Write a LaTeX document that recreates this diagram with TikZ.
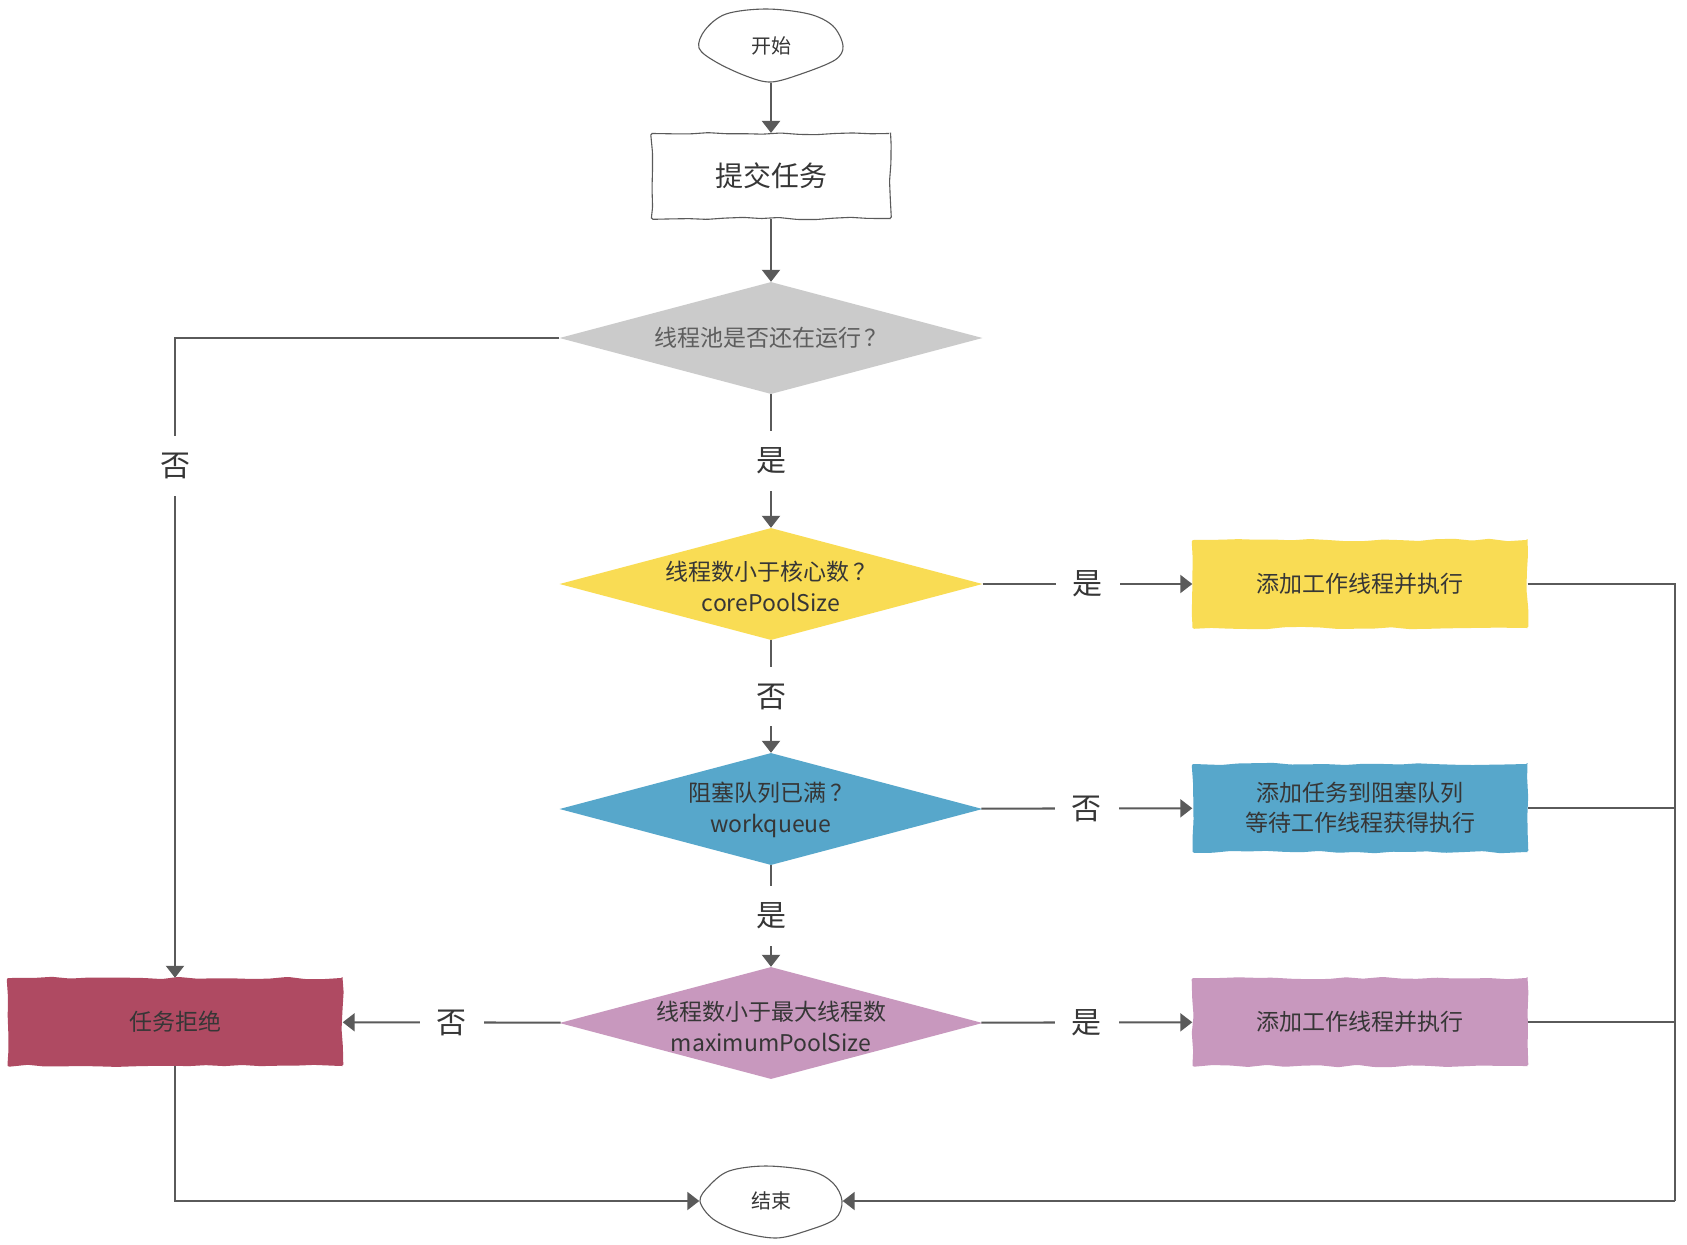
\documentclass[tikz,border=0pt]{standalone}
\usepackage{fontspec}
\setmainfont{Noto Sans CJK SC}
\usetikzlibrary{shapes.geometric,arrows.meta,decorations.pathmorphing}
\definecolor{lc}{HTML}{5A5A5A}
\definecolor{txt}{HTML}{363636}
\definecolor{grayd}{HTML}{CBCBCB}
\definecolor{yel}{HTML}{F9DC54}
\definecolor{blu}{HTML}{57A7CB}
\definecolor{pnk}{HTML}{C898BE}
\definecolor{redd}{HTML}{AF4A62}
\tikzset{
  sketch/.style={decorate, decoration={random steps, segment length=18pt, amplitude=1.2pt}, rounded corners=1.5pt},
  cloudy/.style={ellipse, minimum width=#1, minimum height=73pt, inner sep=0pt,
     font=\fontsize{20}{24}\selectfont, text=txt},
  cloudline/.style={draw=lc, line width=1.1pt},
  plainbox/.style={rectangle, draw=lc, line width=1.1pt, fill=white, minimum width=239pt, minimum height=85pt, inner sep=0pt,
     font=\fontsize{28}{32}\selectfont, text=txt, sketch},
  dia/.style={diamond, minimum width=423pt, minimum height=112pt, inner sep=0pt},
  dtext/.style={align=center, font=\fontsize{23}{31}\selectfont, text=txt, inner sep=0pt},
  cbox/.style={rectangle, fill=#1, minimum width=335pt, minimum height=88pt, inner sep=0pt, align=center,
     font=\fontsize{23}{30}\selectfont, text=txt, sketch},
  line/.style={draw=lc, line width=2.1pt},
  conn/.style={line, -{Triangle[length=12pt,width=18pt]}},
  lbl/.style={fill=white, inner sep=17pt, font=\fontsize{30}{32}\selectfont, text=txt}
}
\pgfmathsetseed{7}
\begin{document}
\begin{tikzpicture}[x=1pt,y=-1pt]
\useasboundingbox[fill=white] (0,0) rectangle (1687,1245);
% nodes
\node[cloudy=144pt] (start) at (771,46) {开始};
\draw[cloudline, shift={(start.center)}] plot[smooth cycle, tension=0.55] coordinates
  {(-45,-32) (-5,-37) (38,-32) (62,-20) (72,0) (64,14) (30,28) (0,36) (-25,30) (-55,16) (-72,2) (-66,-16)};
\node[plainbox] (submit) at (771,176) {提交任务};
\node[dia, fill=grayd] (d1) at (771,338) {};
\node[dtext, text=txt!80] (d1t) at (771,338) {线程池是否还在运行\,？};
\node[dia, fill=yel] (d2) at (771,584) {};
\node[dtext] (d2t) at (771,586) {线程数小于核心数\,？\\corePoolSize};
\node[dia, fill=blu] (d3) at (771,809) {};
\node[dtext] (d3t) at (771,810) {阻塞队列已满\,？\\workqueue};
\node[dia, fill=pnk] (d4) at (771,1023) {};
\node[dtext] (d4t) at (771,1026) {线程数小于最大线程数\\maximumPoolSize};
\node[cbox=yel] (yb) at (1360,584) {添加工作线程并执行};
\node[cbox=blu] (bb) at (1360,808) {添加任务到阻塞队列\\等待工作线程获得执行};
\node[cbox=pnk] (pb) at (1360,1022) {添加工作线程并执行};
\node[cbox=redd] (rb) at (175,1022) {任务拒绝};
\node[cloudy=143pt] (endc) at (771,1201) {结束};
\draw[cloudline, shift={(endc.center)}] plot[smooth cycle, tension=0.55] coordinates
  {(-42,-30) (-5,-35) (40,-30) (62,-18) (71,0) (64,18) (35,30) (5,37) (-30,31) (-58,18) (-71,0) (-62,-15)};
\coordinate (rc) at (1675,1201);
% connectors
\draw[conn] (start) -- (submit);
\draw[conn] (submit) -- (d1);
\draw[conn] (d1) -- node[lbl]{是} (d2);
\draw[conn] (d2) -- node[lbl]{否} (d3);
\draw[conn] (d3) -- node[lbl]{是} (d4);
\draw[conn] (d2) -- node[lbl]{是} (yb);
\draw[conn] (d3) -- node[lbl]{否} (bb);
\draw[conn] (d4) -- node[lbl]{是} (pb);
\draw[conn] (d4) -- node[lbl]{否} (rb);
\draw[conn] (d1.west) -| node[lbl, pos=0.6]{否} (rb.north);
\draw[conn] (rb.south) |- (endc.west);
\draw[line] (yb.east) -| (rc);
\draw[line] (bb.east) -| (rc);
\draw[line] (pb.east) -| (rc);
\draw[conn] (rc) -- (endc.east);
\end{tikzpicture}
\end{document}
